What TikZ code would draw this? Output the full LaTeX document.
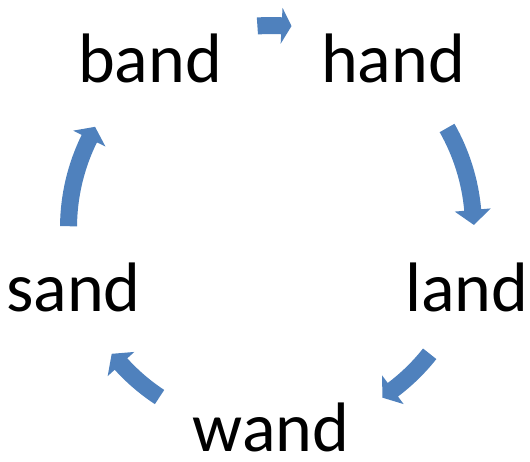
\documentclass[tikz,border=0pt]{standalone}
\usepackage{fontspec}
\setmainfont{Carlito}
\usepackage{xcolor}
\usetikzlibrary{calc}

\definecolor{cycblue}{RGB}{79,129,189}

\tikzset{
    word/.style={font=\fontsize{70}{84}\selectfont, anchor=base, inner sep=0pt, text depth=0pt},
    cycarrow/.style={fill=cycblue, draw=none}
}

\begin{document}
\begin{tikzpicture}[x=1pt, y=1pt, line join=round]
    \useasboundingbox (0,0) rectangle (530,-461);

    % Words round the cycle
    \node[word] (band) at (150,-82) {band};
    \node[word] (hand) at (393,-82) {hand};
    \node[word] (land) at (467,-311) {land};
    \node[word] (wand) at (271,-451) {wand};
    \node[word] (sand) at (73.5,-311) {sand};

    % Centre of the cycle
    \coordinate (hub) at (271,-228);

    % Curved block arrows (tail / head base / tip angle):
    % band->hand, hand->land, land->wand, wand->sand, sand->band
    \foreach \ta/\hb/\tp in {
        93.85/87/84.2,
        29.6/5.1/0.85,
        -38.4/-53/-56.7,
        -123.4/-137.8/-141.7,
        179.5/153.8/150.1
    }{
        \fill[cycarrow] ($(hub)+(\ta:211pt)$)
            arc[start angle=\ta, end angle=\hb, radius=211pt]
            -- ($(hub)+(\hb:220.5pt)$) -- ($(hub)+(\tp:203pt)$)
            -- ($(hub)+(\hb:184.5pt)$) -- ($(hub)+(\hb:194pt)$)
            arc[start angle=\hb, end angle=\ta, radius=194pt] -- cycle;
    }

\end{tikzpicture}
\end{document}
